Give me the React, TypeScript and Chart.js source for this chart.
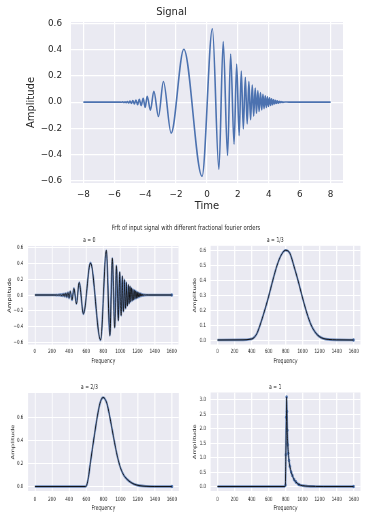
import React, { useEffect, useRef } from "react";
import { Chart, registerables } from "chart.js";

Chart.register(...registerables);

const FONT = "'DejaVu Sans', 'Liberation Sans', sans-serif";
const TEXT = "#262626";
const PANEL_BG = "#EAEAF2";
const SEABORN_BLUE = "#4C72B0";

// ---------- Top chart: "Signal" (peaks / troughs) ----------
const signalTime = [
  -8, -5.7, -5.52, -5.45, -5.38, -5.3, -5.23, -5.15, -5.07, -4.98, -4.89, -4.8, -4.7, -4.6,
  -4.49, -4.38, -4.26, -4.13, -4.0, -3.87, -3.66, -3.44, -3.14, -2.82, -2.32, -1.5, -0.32,
  0.35, 0.77, 1.05, 1.33, 1.53, 1.75, 1.92, 2.08, 2.22, 2.35, 2.48, 2.6, 2.71, 2.82, 2.93,
  3.02, 3.12, 3.2, 3.29, 3.37, 3.46, 3.54, 3.62, 3.69, 3.77, 3.84, 3.91, 3.98, 4.05, 4.12,
  4.18, 4.25, 4.31, 4.37, 4.43, 4.49, 4.55, 4.61, 4.67, 4.73, 4.79, 4.85, 4.91, 4.97, 5.03,
  5.3, 8,
];
const signalAmp = [
  0, 0, -0.001, 0.002, -0.003, 0.003, -0.004, 0.005, -0.007, 0.008, -0.01, 0.011, -0.014, 0.016,
  -0.02, 0.022, -0.027, 0.03, -0.04, 0.045, -0.062, 0.083, -0.11, 0.158, -0.237, 0.404, -0.567,
  0.561, -0.512, 0.462, -0.408, 0.368, -0.321, 0.29, -0.256, 0.237, -0.205, 0.19, -0.166, 0.157, -0.134, 0.13,
  -0.107, 0.108, -0.087, 0.088, -0.072, 0.073, -0.06, 0.06, -0.05, 0.049, -0.041, 0.04, -0.033, 0.032, -0.026,
  0.025, -0.02, 0.019, -0.015, 0.014, -0.011, 0.01, -0.008, 0.007, -0.005, 0.004, -0.003, 0.002, -0.002, 0.001,
  0, 0,
];
const signalXTicks = [-8, -6, -4, -2, 0, 2, 4, 6, 8];
const signalYTicks = [-0.6, -0.4, -0.2, 0, 0.2, 0.4, 0.6];

// ---------- Bottom charts: FrFT of the signal ----------
const freqTicks = [0, 200, 400, 600, 800, 1000, 1200, 1400, 1600];

// a = 0 : the signal itself, plotted against sample index (100 samples per time unit)
const a0Freq = signalTime.map((t) => (t + 8) * 100);
const a0Amp = signalAmp;
const a0YTicks = [-0.6, -0.4, -0.2, 0, 0.2, 0.4, 0.6];

// a = 1/3
const a13Freq = [0, 300, 380, 420, 460, 500, 550, 600, 650, 700, 750, 800, 850, 900, 950, 1000, 1050, 1100, 1150, 1200, 1250, 1300, 1400, 1599];
const a13Amp = [0, 0.001, 0.005, 0.012, 0.04, 0.1, 0.19, 0.29, 0.4, 0.5, 0.57, 0.6, 0.58, 0.49, 0.39, 0.28, 0.18, 0.1, 0.05, 0.022, 0.009, 0.004, 0.001, 0];
const a13YTicks = [0, 0.1, 0.2, 0.3, 0.4, 0.5, 0.6];

// a = 2/3
const a23Freq = [0, 590, 605, 625, 645, 670, 700, 730, 760, 785, 800, 815, 840, 870, 900, 930, 960, 1000, 1040, 1080, 1120, 1160, 1220, 1300, 1400, 1599];
const a23Amp = [0, 0, 0.012, 0.08, 0.19, 0.32, 0.47, 0.61, 0.72, 0.765, 0.77, 0.76, 0.72, 0.62, 0.5, 0.38, 0.27, 0.16, 0.095, 0.06, 0.036, 0.02, 0.008, 0.002, 0, 0];
const a23YTicks = [0, 0.2, 0.4, 0.6];

// a = 1
const a1Freq = [0, 790, 798, 803, 808, 812, 816, 820, 826, 832, 840, 850, 865, 880, 900, 920, 955, 1000, 1060, 1150, 1250, 1599];
const a1Amp = [0, 0, 0.05, 1.1, 2.4, 3.1, 2.6, 1.95, 1.45, 1.15, 0.9, 0.7, 0.5, 0.38, 0.24, 0.16, 0.07, 0.03, 0.012, 0.003, 0, 0];
const a1YTicks = [0, 0.5, 1, 1.5, 2, 2.5, 3];

const SUPTITLE = "Frft of input signal with different fractional fourier orders";

type Panel = {
  id: string;
  left: number; top: number; width: number; height: number; sx: number;
  plot: { l: number; r: number; t: number; b: number };
  title: string; titleY: number; titleSize: number;
  xTitle: string; xTitleY: number; yTitle: string; yTitleX: number; labelSize: number;
  tickSize: number; xTickY: number; yTickGap: number;
  xRange: [number, number]; xTicks: number[]; xDigits: number;
  yRange: [number, number]; yTicks: number[]; yDigits: number;
  xs: number[]; ys: number[];
  kind: "signal" | "frft";
  markers: boolean;
  gridWidth: number;
};

const fmt = (v: number, d: number) => {
  const s = Number(v).toFixed(d);
  return s.startsWith("-") ? "\u2212" + s.slice(1) : s;
};

const bgPlugin = {
  id: "panelBg",
  beforeDraw(chart: any) {
    const { ctx, chartArea } = chart;
    ctx.save();
    ctx.fillStyle = PANEL_BG;
    ctx.fillRect(chartArea.left, chartArea.top, chartArea.right - chartArea.left, chartArea.bottom - chartArea.top);
    ctx.restore();
  },
};

function buildConfig(p: Panel): any {
  const sx = p.sx;
  const pts = p.xs.map((x, i) => ({ x, y: p.ys[i] }));
  const n = pts.length;
  const tLH = 1.2 * p.titleSize;
  const tTop = p.titleY - tLH / 2;
  const tBottom = p.plot.t - tTop - tLH;
  const xTickPad = p.xTickY - p.plot.b - 0.6 * p.tickSize;
  const xTitlePadBottom = p.height - p.xTitleY - 0.6 * p.labelSize;
  const yTitlePadTop = p.yTitleX / sx - 0.6 * p.labelSize;

  const datasets: any[] =
    p.kind === "signal"
      ? [
          {
            data: pts, borderColor: SEABORN_BLUE, borderWidth: 1.6, pointRadius: 0,
            cubicInterpolationMode: "monotone", fill: false,
          },
        ]
      : [
          {
            data: pts, borderColor: "#111111", borderWidth: 1, pointRadius: 0,
            cubicInterpolationMode: "monotone", fill: false,
          },
          {
            data: pts, borderColor: "rgba(76,114,176,0.8)", borderWidth: 2.6,
            cubicInterpolationMode: "monotone", fill: false,
            pointRadius: (c: any) =>
              c.dataIndex === n - 1 || (p.markers && Math.abs(pts[c.dataIndex].y) > 0.04) ? 1.8 : 0,
            pointBackgroundColor: SEABORN_BLUE, pointBorderWidth: 0,
          },
        ];

  return {
    type: "line",
    data: { datasets },
    options: {
      responsive: false,
      animation: false,
      devicePixelRatio: 1,
      events: [],
      layout: { padding: { left: 0, top: 0, bottom: 0, right: (p.width - p.plot.r) / sx } },
      plugins: {
        legend: { display: false },
        tooltip: { enabled: false },
        title: {
          display: true, text: p.title, color: TEXT,
          font: { family: FONT, size: p.titleSize, weight: "normal", lineHeight: 1.2 },
          padding: { top: tTop, bottom: tBottom },
        },
      },
      scales: {
        x: {
          type: "linear", min: p.xRange[0], max: p.xRange[1],
          afterBuildTicks: (s: any) => { s.ticks = p.xTicks.map((v) => ({ value: v })); },
          afterFit: (s: any) => { s.height = p.height - p.plot.b; },
          grid: { color: "#ffffff", lineWidth: p.gridWidth / sx, drawTicks: false },
          border: { display: false },
          ticks: {
            color: TEXT, font: { family: FONT, size: p.tickSize, lineHeight: 1.2 },
            padding: xTickPad, maxRotation: 0, autoSkip: false,
            callback: (v: any) => fmt(v, p.xDigits),
          },
          title: {
            display: true, text: p.xTitle, color: TEXT,
            font: { family: FONT, size: p.labelSize, lineHeight: 1.2 },
            padding: { top: 0, bottom: xTitlePadBottom },
          },
        },
        y: {
          type: "linear", min: p.yRange[0], max: p.yRange[1],
          afterBuildTicks: (s: any) => { s.ticks = p.yTicks.map((v) => ({ value: v })); },
          afterFit: (s: any) => { s.width = p.plot.l / sx; },
          grid: { color: "#ffffff", lineWidth: p.gridWidth, drawTicks: false },
          border: { display: false },
          ticks: {
            color: TEXT, font: { family: FONT, size: p.tickSize, lineHeight: 1.2 },
            padding: p.yTickGap / sx, autoSkip: false,
            callback: (v: any) => fmt(v, p.yDigits),
          },
          title: {
            display: true, text: p.yTitle, color: TEXT,
            font: { family: FONT, size: p.labelSize, lineHeight: 1.2 },
            padding: { top: yTitlePadTop, bottom: 0 },
          },
        },
      },
    },
    plugins: [bgPlugin],
  };
}

const SUB_SX = 0.68;
const subCommon = {
  sx: SUB_SX, titleSize: 6.8, labelSize: 6.8, tickSize: 5.9,
  xTitle: "Frequency", yTitle: "Amplitude", yTickGap: 4.7,
  xRange: [-80, 1679] as [number, number], xTicks: freqTicks, xDigits: 0, yDigits: 1,
  kind: "frft" as const, gridWidth: 1,
};

const PANELS: Panel[] = [
  {
    id: "signal", left: 0, top: 0, width: 378, height: 220, sx: 1,
    plot: { l: 71, r: 343, t: 22, b: 183 },
    title: "Signal", titleY: 12.8, titleSize: 10,
    xTitle: "Time", xTitleY: 206, yTitle: "Amplitude", yTitleX: 31, labelSize: 10,
    tickSize: 8.8, xTickY: 195, yTickGap: 9,
    xRange: [-8.8, 8.8], xTicks: signalXTicks, xDigits: 0,
    yRange: [-0.618, 0.612], yTicks: signalYTicks, yDigits: 1,
    xs: signalTime, ys: signalAmp, kind: "signal", markers: false, gridWidth: 1.2,
  },
  {
    ...subCommon, id: "a0", left: 0, top: 232, width: 190, height: 135,
    plot: { l: 28, r: 178.8, t: 14, b: 112.5 },
    title: "a = 0", titleY: 8, xTickY: 119.7, xTitleY: 129, yTitleX: 9.8,
    yRange: [-0.623, 0.617], yTicks: a0YTicks, xs: a0Freq, ys: a0Amp, markers: false,
  },
  {
    ...subCommon, id: "a13", left: 190, top: 232, width: 188, height: 135,
    plot: { l: 20.7, r: 170.7, t: 13.8, b: 112.5 },
    title: "a = 1/3", titleY: 8, xTickY: 119.7, xTitleY: 129, yTitleX: 5,
    yRange: [-0.03, 0.63], yTicks: a13YTicks, xs: a13Freq, ys: a13Amp, markers: false,
  },
  {
    ...subCommon, id: "a23", left: 0, top: 378, width: 190, height: 139,
    plot: { l: 28, r: 179, t: 15, b: 113 },
    title: "a = 2/3", titleY: 9.7, xTickY: 121, xTitleY: 130, yTitleX: 13.3,
    yRange: [-0.0385, 0.8085], yTicks: a23YTicks, xs: a23Freq, ys: a23Amp, markers: false,
  },
  {
    ...subCommon, id: "a1", left: 190, top: 378, width: 188, height: 139,
    plot: { l: 20.7, r: 170.7, t: 14.5, b: 113 },
    title: "a = 1", titleY: 9.7, xTickY: 121, xTitleY: 130, yTitleX: 5,
    yRange: [-0.155, 3.255], yTicks: a1YTicks, xs: a1Freq, ys: a1Amp, markers: true,
  },
];

function PanelChart({ p }: { p: Panel }) {
  const ref = useRef<HTMLCanvasElement>(null);
  useEffect(() => {
    const c = ref.current;
    if (!c) return;
    const chart = new Chart(c, buildConfig(p));
    return () => chart.destroy();
  }, [p]);
  const wu = Math.round(p.width / p.sx);
  return (
    <canvas
      ref={ref}
      width={wu}
      height={p.height}
      style={{
        position: "absolute", left: p.left, top: p.top, width: wu, height: p.height,
        transform: `scaleX(${p.sx})`, transformOrigin: "0 0",
      }}
    />
  );
}

export default function App() {
  return (
    <div style={{ position: "absolute", left: 0, top: 0, width: 378, height: 517, background: "#ffffff", overflow: "hidden" }}>
      {PANELS.map((p) => (
        <PanelChart key={p.id} p={p} />
      ))}
      <div
        style={{
          position: "absolute", left: 186, top: 228, transform: "translate(-50%, -50%) scaleX(0.72)",
          fontFamily: FONT, fontSize: 7.3, lineHeight: 1, color: TEXT, whiteSpace: "nowrap",
        }}
      >
        {SUPTITLE}
      </div>
    </div>
  );
}
